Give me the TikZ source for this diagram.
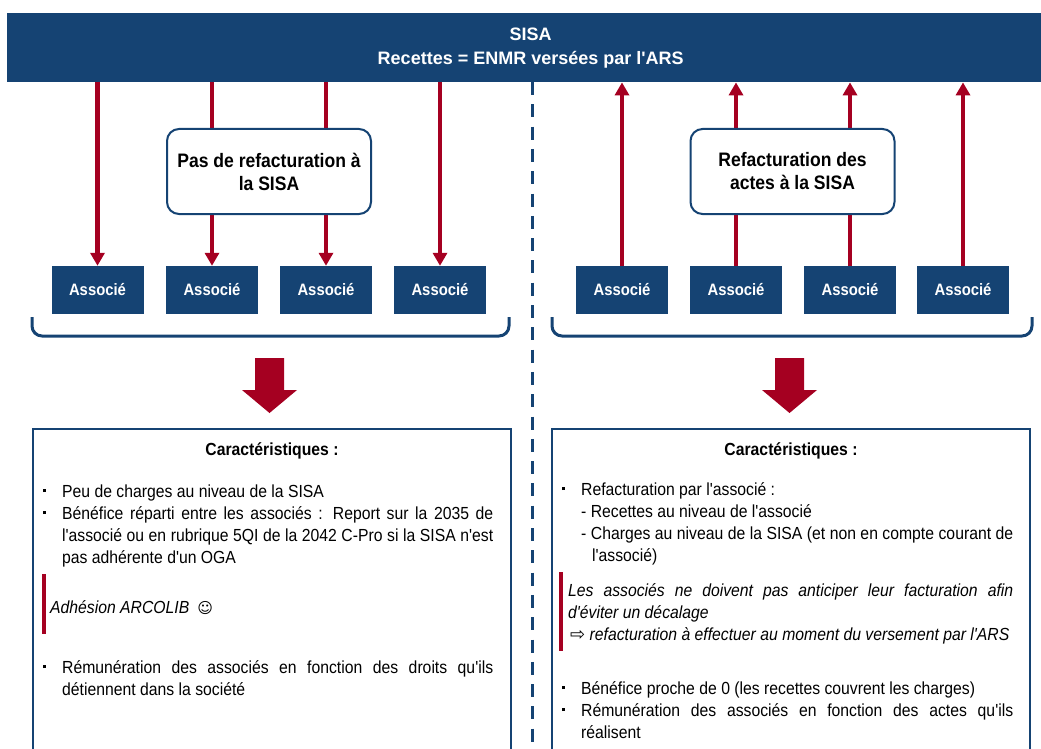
\documentclass[tikz,border=0pt]{standalone}
\usepackage{fontspec}
\setmainfont{Liberation Sans}[FakeStretch=0.9, Ligatures=TeXOff]
\newfontfamily\headfont{Liberation Sans}[Ligatures=TeXOff]
\newfontfamily\symbfont{DejaVu Sans}
\usetikzlibrary{arrows.meta}
\definecolor{sisablue}{HTML}{154373}
\definecolor{sisared}{HTML}{A50021}
\newcommand\puce{\noindent\hangindent=19pt\hangafter=1\makebox[19pt][l]{\raisebox{5pt}{\rule{3.2pt}{3.2pt}}}\strut}
\begin{document}
\begin{tikzpicture}[x=1pt, y=-1pt,
  bandeau/.style={anchor=north west, fill=sisablue, text=white, inner sep=0pt,
    minimum width=1047pt, minimum height=69pt, align=center,
    font=\headfont\bfseries\fontsize{18}{24}\selectfont},
  assoc/.style={fill=sisablue, text=white, inner sep=0pt,
    minimum width=92pt, minimum height=48pt, font=\bfseries\fontsize{16.5}{20}\selectfont},
  statut/.style={draw=sisablue, line width=2pt, fill=white, rounded corners=12pt,
    minimum width=204pt, minimum height=85pt, inner sep=0pt, align=center,
    font=\bfseries\fontsize{19.5}{23}\selectfont},
  titre/.style={anchor=base, inner sep=0pt, font=\bfseries\fontsize{17.5}{22}\selectfont},
  liste/.style={anchor=north west, inner sep=0pt, text width=450pt, align=justify,
    font=\fontsize{17.5}{22}\selectfont},
  cadre/.style={draw=sisablue, line width=2.5pt}]
\newcommand\epflux{4.5pt}
\useasboundingbox (0,0) rectangle (1041,749);
%SISA bar
\node[bandeau] (sisa) at (7,13) {SISA\\Recettes = ENMR versées par l'ARS};
%left: no refacturation
\node[assoc] (gA1) at (97.5,290) {Associé};
\node[assoc] (gA2) at (212,290) {Associé};
\node[assoc] (gA3) at (326,290) {Associé};
\node[assoc] (gA4) at (440,290) {Associé};
%right: refacturation
\node[assoc] (dA1) at (622,290) {Associé};
\node[assoc] (dA2) at (736,290) {Associé};
\node[assoc] (dA3) at (850,290) {Associé};
\node[assoc] (dA4) at (963,290) {Associé};
%
\draw[sisared, line width=\epflux, -{Triangle[width=14pt,length=13pt]}]
  (sisa.south -| gA1.north) -- (gA1.north);
\draw[sisared, line width=\epflux, -{Triangle[width=14pt,length=13pt]}]
  (sisa.south -| gA2.north) -- (gA2.north);
\draw[sisared, line width=\epflux, -{Triangle[width=14pt,length=13pt]}]
  (sisa.south -| gA3.north) -- (gA3.north);
\draw[sisared, line width=\epflux, -{Triangle[width=14pt,length=13pt]}]
  (sisa.south -| gA4.north) -- (gA4.north);
%
\draw[sisared, line width=\epflux, -{Triangle[width=14pt,length=13pt]}]
  (dA1.north) -- (sisa.south -| dA1.north);
\draw[sisared, line width=\epflux, -{Triangle[width=14pt,length=13pt]}]
  (dA2.north) -- (sisa.south -| dA2.north);
\draw[sisared, line width=\epflux, -{Triangle[width=14pt,length=13pt]}]
  (dA3.north) -- (sisa.south -| dA3.north);
\draw[sisared, line width=\epflux, -{Triangle[width=14pt,length=13pt]}]
  (dA4.north) -- (sisa.south -| dA4.north);
%boxes over the arrows
\node[statut] (pasrefac) at (269,171.5) {Pas de refacturation à\\la SISA};
\node[statut] (refac) at (792.5,171.5) {Refacturation des\\actes à la SISA};
%dashed split
\draw[sisablue, line width=3pt, dash pattern=on 13pt off 9.3pt] (532,82) -- (532,760);
%brackets under the associes
\draw[sisablue, line width=3pt, rounded corners=10pt] (32,317) -- (32,336) -- (509,336) -- (509,317);
\draw[sisablue, line width=3pt, rounded corners=10pt] (552,317) -- (552,336) -- (1032,336) -- (1032,317);
%big arrows
\fill[sisared] (255,358) -- (284,358) -- (284,390) -- (297,390) -- (269.5,413) -- (242,390) -- (255,390) -- cycle;
\fill[sisared] (775,358) -- (804,358) -- (804,390) -- (817,390) -- (789.5,413) -- (762,390) -- (775,390) -- cycle;
%characteristics, left
\draw[cadre] (33,429) rectangle (511,760);
\node[titre] (carG) at (272,455) {Caractéristiques :};
\node[liste] (gListe1) at (43,481.6) {\puce Peu de charges au niveau de la SISA\par
  \puce Bénéfice réparti entre les associés : Report sur la 2035 de\linebreak
  l'associé ou en rubrique 5QI de la 2042 C-Pro si la SISA n'est\linebreak
  pas adhérente d'un OGA\par};
\fill[sisared] (42,574) rectangle (46,634);
\node[anchor=base west, inner sep=0pt, font=\fontsize{17.5}{22}\selectfont\itshape] (gNote)
  at (50,613) {Adhésion ARCOLIB\hspace{8pt}{\symbfont\fontsize{15}{22}\selectfont ☺}};
\node[liste] (gListe2) at (43,657.6) {\puce Rémunération des associés en fonction des droits qu'ils\linebreak
  détiennent dans la société\par};
%characteristics, right
\draw[cadre] (552,429) rectangle (1030,760);
\node[titre] (carD) at (791,455) {Caractéristiques :};
\node[liste, text width=451pt] (dListe1) at (562,479.6) {\puce Refacturation par l'associé :\par
  \noindent\hspace*{19pt}- Recettes au niveau de l'associé\par
  \noindent\hangindent=30pt\hangafter=1\hspace*{19pt}- Charges au niveau de la SISA (et non en compte courant de\linebreak
  l'associé)\par};
\fill[sisared] (559,572) rectangle (563,651);
\node[liste, text width=445pt, font=\fontsize{17.5}{22}\selectfont\itshape] (dNote) at (568,580.6)
  {\noindent\strut Les associés ne doivent pas anticiper leur facturation afin\linebreak
  d'éviter un décalage\par
  \noindent\hspace*{2pt}{\symbfont\upshape\fontsize{18}{22}\selectfont ⇨} refacturation à effectuer au moment du versement par l'ARS\par};
\node[liste, text width=451pt] (dListe2) at (562,678.6) {\puce Bénéfice proche de 0 (les recettes couvrent les charges)\par
  \puce Rémunération des associés en fonction des actes qu'ils\linebreak
  réalisent\par};
\end{tikzpicture}
\end{document}
